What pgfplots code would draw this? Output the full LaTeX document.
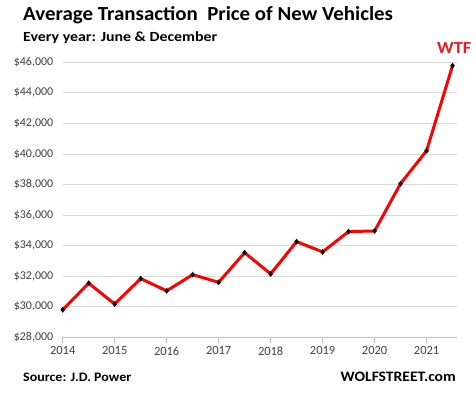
\documentclass[border=0pt]{standalone}
\usepackage{pgfplots}
\pgfplotsset{compat=1.18}
\usepackage{fontspec}
\setmainfont{Carlito}
\newfontfamily\wideT[FakeStretch=1.05]{Carlito}
\newfontfamily\wideA[FakeStretch=1.14]{Carlito}
\newfontfamily\wideC[FakeStretch=1.08]{Carlito}
\definecolor{gridgray}{RGB}{217,217,217}
\definecolor{axgray}{RGB}{191,191,191}
\definecolor{lred}{RGB}{255,0,0}
\definecolor{wtfred}{RGB}{235,28,36}
\definecolor{lbl}{RGB}{64,64,64}
\begin{document}
\begin{tikzpicture}[x=1bp,y=1bp]
\path[use as bounding box] (0,0) rectangle (476,393);
\begin{axis}[
  at={(62.7bp,55.7bp)}, anchor=south west,
  scale only axis, width=394bp, height=275bp,
  xmin=2014, xmax=2021.58, ymin=28000, ymax=46000,
  axis x line*=bottom, axis y line*=left,
  y axis line style={draw=none},
  x axis line style={axgray, line width=0.8bp},
  xtick={2014,2015,2016,2017,2018,2019,2020,2021},
  ytick={28000,30000,32000,34000,36000,38000,40000,42000,44000,46000},
  scaled x ticks=false, scaled y ticks=false,
  /pgf/number format/assume math mode=true,
  xticklabel style={/pgf/number format/1000 sep={}, text=lbl, font=\fontsize{12.5}{12.5}\selectfont},
  yticklabel={\$\pgfmathprintnumber{\tick}},
  yticklabel style={/pgf/number format/1000 sep={,}, text=lbl, font=\fontsize{12}{12}\selectfont},
  tick align=outside, major tick length=6bp,
  xtick style={axgray, line width=0.8bp},
  ytick style={draw=none},
  ymajorgrids, major grid style={gridgray, line width=0.8bp},
  clip=false,
]
\addplot[lred, line width=3bp, mark=diamond*, mark size=2.6bp,
  mark options={black, fill=black, line width=0.4bp}] coordinates {
(2014.0,29800) (2014.5,31540) (2015.0,30180) (2015.5,31840)
(2016.0,31040) (2016.5,32100) (2017.0,31600) (2017.5,33540)
(2018.0,32150) (2018.5,34260) (2019.0,33590) (2019.5,34920)
(2020.0,34960) (2020.5,38060) (2021.0,40210) (2021.5,45780)
};
\end{axis}
\node[anchor=base west, inner sep=0, font=\wideT\bfseries\fontsize{20}{20}\selectfont] at (23,372.3) {Average Transaction\ \ Price of New Vehicles};
\node[anchor=base west, inner sep=0, font=\wideA\bfseries\fontsize{14}{14}\selectfont] at (23,351.7) {Every year: June \& December};
\node[anchor=base west, inner sep=0, font=\wideC\bfseries\fontsize{13}{13}\selectfont] at (23,11.5) {Source: J.D. Power};
\node[anchor=base east, inner sep=0, font=\wideC\bfseries\fontsize{14.5}{14.5}\selectfont] at (456,12) {WOLFSTREET.com};
\node[anchor=base west, inner sep=0, text=wtfred, font=\wideC\bfseries\fontsize{17}{17}\selectfont] at (437,339.7) {WTF};
\end{tikzpicture}
\end{document}
